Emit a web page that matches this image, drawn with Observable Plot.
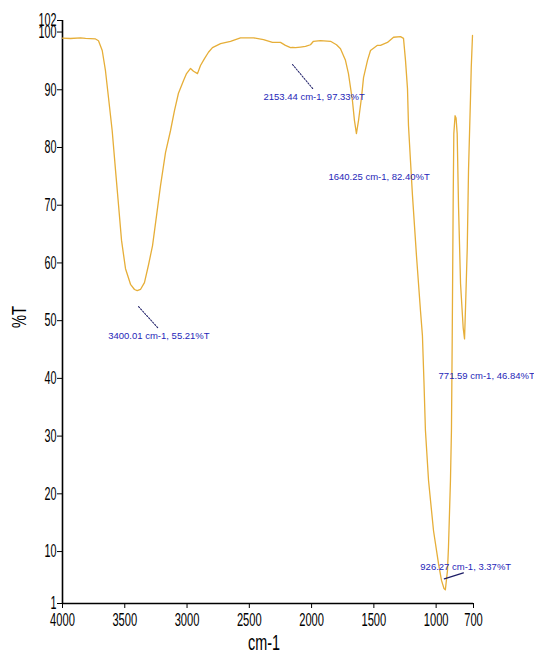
<!DOCTYPE html>
<html>
<head>
<meta charset="utf-8">
<script src="https://cdn.jsdelivr.net/npm/d3@7"></script>
<script src="https://cdn.jsdelivr.net/npm/@observablehq/plot@0.6"></script>
<style>
  html, body { margin: 0; padding: 0; background: #ffffff; }
  #chart svg { display: block; }
</style>
</head>
<body>
<div id="chart"></div>
<script>
const wavenumber = [4000, 3936, 3855, 3815, 3735, 3711, 3681, 3655, 3631, 3601, 3574, 3550, 3526, 3494, 3454, 3422, 3400, 3374, 3342, 3310, 3277, 3245, 3213, 3173, 3133, 3101, 3069, 3028, 3004, 2972, 2948, 2916, 2892, 2860, 2828, 2796, 2731, 2651, 2571, 2466, 2386, 2314, 2250, 2210, 2169, 2153, 2129, 2089, 2049, 2009, 1985, 1929, 1848, 1800, 1768, 1728, 1704, 1672, 1656, 1640, 1623, 1599, 1583, 1551, 1527, 1471, 1447, 1391, 1342, 1286, 1262, 1246, 1230, 1222, 1206, 1190, 1158, 1126, 1110, 1098, 1086, 1061, 1021, 981, 957, 937, 926, 909, 901, 885, 877, 871, 863, 858, 848, 840, 831, 820, 804, 783, 772, 764, 750, 740, 724, 718, 708];
const transmittance = [98.93, 98.88, 99.0, 98.9, 98.8, 98.5, 96.8, 93.3, 88.7, 82.9, 76.0, 70.0, 63.9, 59.0, 56.3, 55.4, 55.21, 55.4, 56.6, 59.6, 63.0, 68.2, 73.4, 79.1, 82.9, 86.4, 89.4, 91.6, 92.8, 93.7, 93.2, 92.8, 94.2, 95.4, 96.5, 97.3, 98.0, 98.4, 99.0, 99.0, 98.7, 98.2, 98.2, 97.7, 97.3, 97.33, 97.3, 97.4, 97.5, 97.8, 98.4, 98.5, 98.4, 97.8, 97.1, 95.1, 92.8, 88.1, 84.7, 82.4, 84.7, 88.7, 92.1, 95.1, 96.8, 97.7, 97.7, 98.2, 99.1, 99.2, 98.9, 95.1, 90.2, 83.8, 77.7, 71.7, 61.3, 51.8, 47.4, 39.6, 31.0, 22.3, 13.6, 7.9, 5.0, 3.6, 3.37, 6.7, 10.7, 22.3, 31.0, 46.6, 71.3, 82.4, 85.5, 85.1, 82.4, 69.6, 56.4, 48.8, 46.84, 52.3, 62.7, 76.0, 88.7, 93.9, 99.4];

const xTicks = [4000, 3500, 3000, 2500, 2000, 1500, 1000, 700];
const yTicks = [1, 10, 20, 30, 40, 50, 60, 70, 80, 90, 100, 102];

const peakWn = [3400.01, 2153.44, 1640.25, 771.59, 926.27];
const peakT = [55.21, 97.33, 82.40, 46.84, 3.37];
const peakLabels = [
  "3400.01 cm-1, 55.21%T",
  "2153.44 cm-1, 97.33%T",
  "1640.25 cm-1, 82.40%T",
  "771.59 cm-1, 46.84%T",
  "926.27 cm-1, 3.37%T"
];

const spectrum = wavenumber.map((w, i) => ({wn: w, t: transmittance[i]}));
const peaks = peakWn.map((w, i) => ({wn: w, t: peakT[i], label: peakLabels[i]}));

const axisFont = "'Liberation Sans', Arial, sans-serif";
const annFont = "'Liberation Sans', Arial, sans-serif";
const annColor = "#2626b8";
const leaderColor = "#1c1c66";
const lineShape = {draw(context, l) { context.moveTo(0, 0); context.lineTo(0, -l); }};

const annText = (i, dx, dy) => Plot.text([peaks[i]], {
  x: "wn", y: "t", text: "label", dx, dy,
  textAnchor: "start", lineAnchor: "middle",
  fill: annColor, fontSize: 9.5, fontFamily: annFont
});

const chart = Plot.plot({
  width: 534,
  height: 655,
  marginTop: 20,
  marginBottom: 52,
  marginLeft: 62,
  marginRight: 61,
  style: {background: "#ffffff", color: "#000000"},
  x: {domain: [4000, 700]},
  y: {domain: [1, 102]},
  marks: [
    Plot.axisX({ticks: xTicks, tickSize: 5, tickPadding: 5, tickFormat: d => String(d), fontSize: 18, fontFamily: axisFont, label: null, stroke: "#000"}),
    Plot.axisY({ticks: yTicks, tickSize: 5, tickPadding: 1, tickFormat: d => String(d), fontSize: 18, fontFamily: axisFont, label: null, stroke: "#000"}),
    Plot.ruleX([4000], {stroke: "#000", strokeWidth: 1.6}),
    Plot.ruleY([1], {stroke: "#000", strokeWidth: 1.6}),
    Plot.line(spectrum, {x: "wn", y: "t", stroke: "#e6ae38", strokeWidth: 1.3, curve: "linear"}),
    // leaders
    Plot.vector([peaks[0]], {x: "wn", y: "t", dx: 1.3, dy: 16, length: 29.7, rotate: 137.7, anchor: "start", shape: lineShape, stroke: leaderColor, strokeWidth: 1, strokeDasharray: "1.5,1.5"}),
    Plot.vector([peaks[1]], {x: "wn", y: "t", dx: 0, dy: 17, length: 32.6, rotate: 140, anchor: "start", shape: lineShape, stroke: leaderColor, strokeWidth: 1, strokeDasharray: "1.5,1.5"}),
    Plot.vector([peaks[4]], {x: "wn", y: "t", dx: -1, dy: -11, length: 20, rotate: 72.5, anchor: "start", shape: lineShape, stroke: leaderColor, strokeWidth: 1.2}),
    // labels
    annText(0, -29, 45),
    annText(1, -29, 49),
    annText(2, -28, 43),
    annText(3, -26, 37),
    annText(4, -25, -23),
    // axis titles
    Plot.text(["cm-1"], {frameAnchor: "bottom", dx: -4, dy: 39, lineAnchor: "middle", fontSize: 22, fontFamily: axisFont, fill: "#000", className: "xtitle"}),
    Plot.text(["%T"], {frameAnchor: "left", dx: -43, dy: 16, rotate: -90, lineAnchor: "middle", fontSize: 20, fontFamily: axisFont, fill: "#000", className: "ytitle"})
  ]
});

// condensed look of the tick labels and titles (as in the original narrow font)
const condense = (sel, perChar) => d3.select(chart).selectAll(sel).each(function() {
  const n = this.textContent.length;
  this.setAttribute("textLength", (n * perChar).toFixed(1));
  this.setAttribute("lengthAdjust", "spacingAndGlyphs");
});
condense('g[aria-label="x-axis tick label"] text', 6.2);
condense('g[aria-label="y-axis tick label"] text', 6.0);
condense('g.xtitle text', 8);
condense('g.ytitle text', 11);

document.getElementById("chart").appendChild(chart);
</script>
</body>
</html>
